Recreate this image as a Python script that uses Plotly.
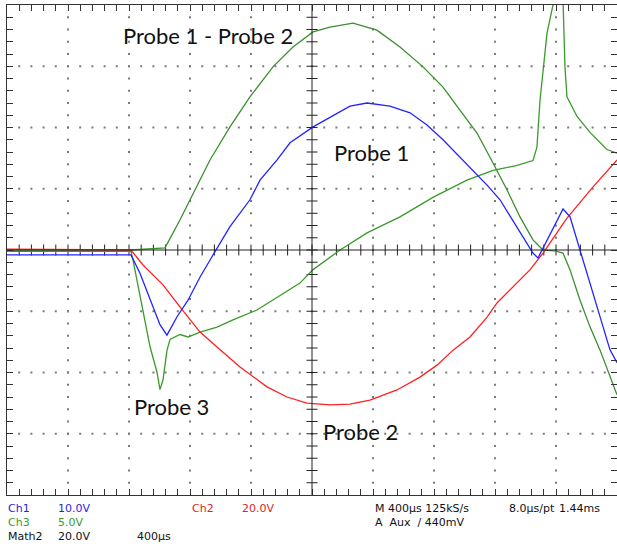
import plotly.graph_objects as go

# ---------------- data (time in µs relative to trigger, volts) ----------------
T_PER_DIV = 400.0  # µs/div

# Ch1 - Probe 1 (10 V/div)
ch1_scale = 10.0
ch1_t = [-2000, -1187, -1128, -1062, -997, -951, -885, -813, -734, -656, -538, -407, -341,
         -229, -144, 7, 118, 249, 361, 511, 643, 754, 859, 957, 1056, 1148, 1233, 1344,
         1449, 1482, 1541, 1607, 1646, 1692, 1757, 1823, 1889, 1954, 2000]
ch1_v = [-0.8, -0.8, -3.8, -8.2, -12.2, -13.9, -10.9, -8.2, -4.4, -1.1, 3.8, 8.2, 11.4,
         14.7, 17.5, 20.1, 21.7, 23.5, 24.0, 23.5, 22.4, 20.4, 18.0, 15.5, 13.1, 10.6, 8.2, 3.8,
         -0.5, -1.3, 1.6, 4.9, 6.7, 5.4, 0.0, -5.4, -10.9, -16.3, -18.4]

# Ch2 - Probe 2 (20 V/div)
ch2_scale = 20.0
ch2_t = [-2000, -1187, -1108, -977, -866, -734, -623, -472, -295, -164, -33, 118, 249, 380,
         557, 708, 820, 925, 1036, 1148, 1213, 1318, 1429, 1515, 1672, 1843, 2000]
ch2_v = [0.3, 0.0, -4.9, -11.4, -18.6, -26.8, -31.7, -38.2, -44.7, -48.0, -50.0, -50.6, -50.3,
         -49.0, -45.7, -41.5, -37.6, -32.7, -28.4, -21.9, -17.3, -12.1, -6.5, -1.0, 10.4, 20.6, 29.4]

# Ch3 - Probe 3 (5 V/div)
ch3_scale = 5.0
ch3_t = [-2000, -1187, -1174, -1115, -1062, -1016, -997, -977, -951, -931, -866, -813, -734,
         -623, -518, -361, -256, -79, 7, 184, 361, 577, 793, 1016, 1187, 1344, 1449, 1475,
         1495, 1541, 1587, 1620, 1646, 1659, 1672, 1738, 1823, 1934, 2000]
ch3_v = [-0.1, -0.1, -0.8, -4.7, -7.9, -10.0, -11.4, -10.6, -8.2, -7.3, -6.9, -7.1, -6.7,
         -6.3, -5.7, -4.9, -4.1, -2.7, -1.6, 0.0, 1.4, 2.7, 4.3, 5.7, 6.5, 6.9, 7.3, 8.4,
         12.2, 17.7, 20.4, 22.4, 20.4, 14.9, 12.5, 10.9, 9.6, 8.2, 7.9]

# Math2 - Probe 1 - Probe 2 (20 V/div)
m2_scale = 20.0
m2_t = [-2000, -1187, -964, -866, -669, -538, -407, -256, -125, 7, 118, 269, 426, 577, 728,
        859, 970, 1082, 1187, 1279, 1364, 1449, 1515, 1593, 1646, 1692, 1757, 1823, 1889,
        1954, 2000]
m2_v = [0.0, 0.0, 0.7, 9.8, 29.4, 40.2, 50.0, 59.8, 66.3, 71.2, 72.8, 74.1, 71.8, 66.3, 59.8,
        53.2, 45.7, 38.2, 28.4, 19.6, 10.8, 3.3, 0.0, -0.3, -1.0, -6.5, -16.3, -25.1, -32.7,
        -41.5, -47.3]

trace_labels = [
    ("Probe 1 - Probe 2", -680, 3.51),
    ("Probe 1", 393, 1.60),
    ("Probe 3", -920, -2.56),
    ("Probe 2", 320, -2.97),
]

readout = [  # text, left px, center y px, color
    ("Ch1", 6, 508, "#1f1fe0"), ("10.0V", 56, 508, "#1f1fe0"),
    ("Ch2", 190, 508, "#e01f1f"), ("20.0V", 240, 508, "#e01f1f"),
    ("M 400µs 125kS/s", 373, 508, "#111111"), ("8.0µs/pt", 507, 508, "#111111"),
    ("1.44ms", 557, 508, "#111111"),
    ("Ch3", 6, 522, "#3a9a2a"), ("5.0V", 56, 522, "#3a9a2a"),
    ("A  Aux  / 440mV", 373, 522, "#111111"),
    ("Math2", 6, 536, "#111111"), ("20.0V", 56, 536, "#111111"), ("400µs", 135, 536, "#111111"),
]

# ---------------- figure ----------------
W, H = 617, 548
ML, MR, MT, MB = 7, 0, 5, 53
PW, PH = W - ML - MR, H - MT - MB
NX, NY = 10, 8
XMIN, XMAX = -NX / 2 * T_PER_DIV, NX / 2 * T_PER_DIV
YMIN, YMAX = -NY / 2, NY / 2

fig = go.Figure()

# dotted graticule
gx, gy = [], []
for i in range(1, NX):
    xd = i - NX / 2
    if xd == 0:
        continue
    for k in range(1, NY * 5):
        gx.append(xd * T_PER_DIV)
        gy.append(YMIN + k * 0.2)
for j in range(1, NY):
    yd = j - NY / 2
    if yd == 0:
        continue
    for k in range(1, NX * 5):
        gx.append(XMIN + k * 0.2 * T_PER_DIV)
        gy.append(yd)
fig.add_trace(go.Scatter(x=gx, y=gy, mode="markers", hoverinfo="skip", showlegend=False,
                         marker=dict(symbol="square", size=2, color="#7a7a7a", line=dict(width=0))))

# centre crosshair ticks
tx, ty = [], []
hx = 5.5 / PW * (XMAX - XMIN)
hy = 5.5 / PH * (YMAX - YMIN)
for k in range(1, NX * 5):
    x = XMIN + k * 0.2 * T_PER_DIV
    tx += [x, x, None]
    ty += [-hy, hy, None]
for k in range(1, NY * 5):
    y = YMIN + k * 0.2
    tx += [-hx, hx, None]
    ty += [y, y, None]
fig.add_trace(go.Scatter(x=tx, y=ty, mode="lines", hoverinfo="skip", showlegend=False,
                         line=dict(color="#222222", width=1)))

fig.add_shape(type="line", x0=XMIN, x1=XMAX, y0=0, y1=0, line=dict(color="#222222", width=1))
fig.add_shape(type="line", x0=0, x1=0, y0=YMIN, y1=YMAX, line=dict(color="#222222", width=1))

def add_wave(t, v, scale, color, name):
    fig.add_trace(go.Scatter(x=t, y=[val / scale for val in v], mode="lines", name=name,
                             showlegend=False, line=dict(color=color, width=1.3)))

add_wave(m2_t, m2_v, m2_scale, "#3b8f2e", "Math2")
add_wave(ch3_t, ch3_v, ch3_scale, "#3a9a2a", "Ch3")
add_wave(ch2_t, ch2_v, ch2_scale, "#ff2020", "Ch2")
add_wave(ch1_t, ch1_v, ch1_scale, "#2323ff", "Ch1")

# trigger marker
fig.add_trace(go.Scatter(x=[0], y=[YMAX + 0.03], mode="markers", hoverinfo="skip", showlegend=False,
                         cliponaxis=False,
                         marker=dict(symbol="triangle-down", size=11, color="#0a0a50")))

for txt, x, y in trace_labels:
    fig.add_annotation(x=x, y=y, text=txt, showarrow=False, xanchor="center", yanchor="middle",
                       font=dict(family="Lato", size=22, color="#111111"))

for txt, px, py, col in readout:
    fig.add_annotation(x=(px - ML) / PW, y=(H - MB - py) / PH, xref="paper", yref="paper",
                       text=txt, showarrow=False, xanchor="left", yanchor="middle",
                       font=dict(family="DejaVu Sans", size=11, color=col))

axis_common = dict(showgrid=False, zeroline=False, showticklabels=False, showline=True,
                   linecolor="#333333", linewidth=1, mirror="allticks", ticks="inside",
                   ticklen=6, tickcolor="#333333", tickwidth=1, fixedrange=True)
fig.update_xaxes(range=[XMIN, XMAX], tick0=0, dtick=T_PER_DIV,
                 minor=dict(ticks="inside", dtick=0.2 * T_PER_DIV, ticklen=6,
                            tickcolor="#333333", tickwidth=1, showgrid=False),
                 **axis_common)
fig.update_yaxes(range=[YMIN, YMAX], tick0=0, dtick=1,
                 minor=dict(ticks="inside", dtick=0.2, ticklen=6,
                            tickcolor="#333333", tickwidth=1, showgrid=False),
                 **axis_common)

fig.update_layout(width=W, height=H, margin=dict(l=ML, r=MR, t=MT, b=MB, pad=0),
                  plot_bgcolor="white", paper_bgcolor="white", showlegend=False)

fig.write_html("out.html", config={"displayModeBar": False},
               post_script="document.body.style.margin='0';document.body.style.overflow='hidden';")
